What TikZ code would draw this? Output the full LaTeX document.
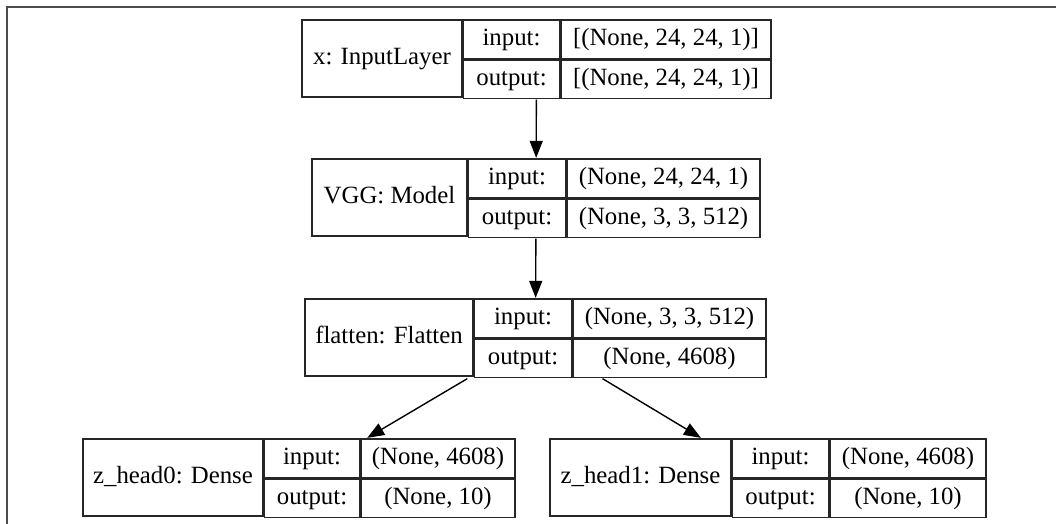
\documentclass[tikz,border=0pt]{standalone}
\usepackage{fontspec}
\setmainfont{Liberation Serif}
\usetikzlibrary{positioning,fit,arrows.meta}

\begin{document}
\begin{tikzpicture}[x=0.5pt,y=-0.5pt,
	cell/.style={
		rectangle, draw=black!85, line width=0.75pt,
		inner sep=0pt, text=black, align=center,
		font=\fontsize{12.4}{14}\selectfont,
		text height=8.6pt, text depth=2.4pt,
		minimum height=38.5pt},
	half/.style={cell, minimum height=19.25pt},
	layer/.style={rectangle, inner sep=0pt, draw=none},
	flow/.style={-{Triangle[length=8.5pt,width=6.5pt]}, line width=0.7pt, black}
	]
	\useasboundingbox (0,0) rectangle (1056,524);
	\draw[black!70, line width=1.1pt] (7,524) -- (7,7) -- (1056,7);

	% x: InputLayer
	\node[cell, minimum width=80pt] (xname) at (382,58.5) {x: InputLayer};
	\node[half, anchor=north west, minimum width=48pt] (xin) at (xname.north east) {input:};
	\node[half, anchor=north west, minimum width=48pt] (xout) at (xin.south west) {output:};
	\node[half, anchor=north west, minimum width=105pt] (xinv) at (xin.north east) {[(None, 24, 24, 1)]};
	\node[half, anchor=north west, minimum width=105pt] (xoutv) at (xout.north east) {[(None, 24, 24, 1)]};
	\node[layer, fit=(xname)(xoutv)] (x) {};

	% VGG: Model
	\node[cell, minimum width=77.5pt] (vggname) at (389.5,197.5) {VGG: Model};
	\node[half, anchor=north west, minimum width=48.5pt] (vggin) at (vggname.north east) {input:};
	\node[half, anchor=north west, minimum width=48.5pt] (vggout) at (vggin.south west) {output:};
	\node[half, anchor=north west, minimum width=96.5pt] (vgginv) at (vggin.north east) {(None, 24, 24, 1)};
	\node[half, anchor=north west, minimum width=96.5pt] (vggoutv) at (vggout.north east) {(None, 3, 3, 512)};
	\node[layer, fit=(vggname)(vggoutv)] (vgg) {};

	% flatten: Flatten
	\node[cell, minimum width=84pt] (flatname) at (389,337.5) {flatten: Flatten};
	\node[half, anchor=north west, minimum width=48.5pt] (flatin) at (flatname.north east) {input:};
	\node[half, anchor=north west, minimum width=48.5pt] (flatout) at (flatin.south west) {output:};
	\node[half, anchor=north west, minimum width=96.5pt] (flatinv) at (flatin.north east) {(None, 3, 3, 512)};
	\node[half, anchor=north west, minimum width=96.5pt] (flatoutv) at (flatout.north east) {(None, 4608)};
	\node[layer, fit=(flatname)(flatoutv)] (flat) {};

	% z_head0: Dense
	\node[cell, minimum width=90pt] (zhaname) at (173,477.5) {z\_head0: Dense};
	\node[half, anchor=north west, minimum width=47.5pt] (zhain) at (zhaname.north east) {input:};
	\node[half, anchor=north west, minimum width=47.5pt] (zhaout) at (zhain.south west) {output:};
	\node[half, anchor=north west, minimum width=77pt] (zhainv) at (zhain.north east) {(None, 4608)};
	\node[half, anchor=north west, minimum width=77pt] (zhaoutv) at (zhaout.north east) {(None, 10)};
	\node[layer, fit=(zhaname)(zhaoutv)] (zha) {};

	% z_head1: Dense
	\node[cell, minimum width=90.5pt] (zhbname) at (640.5,477.5) {z\_head1: Dense};
	\node[half, anchor=north west, minimum width=48pt] (zhbin) at (zhbname.north east) {input:};
	\node[half, anchor=north west, minimum width=48pt] (zhbout) at (zhbin.south west) {output:};
	\node[half, anchor=north west, minimum width=78pt] (zhbinv) at (zhbin.north east) {(None, 4608)};
	\node[half, anchor=north west, minimum width=78pt] (zhboutv) at (zhbout.north east) {(None, 10)};
	\node[layer, fit=(zhbname)(zhboutv)] (zhb) {};

	\draw[flow] (x) -- (vgg);
	\draw[flow] (vgg) -- (flat);
	\draw[flow] (flat) -- (zha);
	\draw[flow] (flat) -- (zhb);
\end{tikzpicture}
\end{document}
